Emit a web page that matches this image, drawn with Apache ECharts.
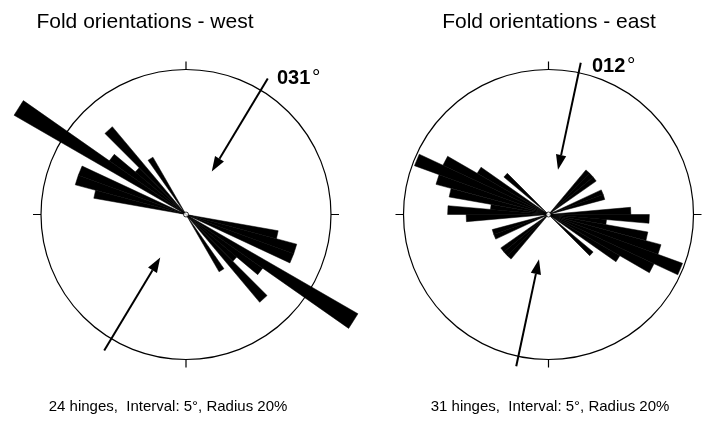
<!DOCTYPE html>
<html>
<head>
<meta charset="utf-8">
<title>Fold orientations</title>
<script src="https://cdn.jsdelivr.net/npm/echarts@6/dist/echarts.min.js"></script>
<style>
  html, body { margin: 0; padding: 0; background: #fff; }
  #chart { width: 705px; height: 443px; }
</style>
</head>
<body>
<div id="chart"></div>
<script>
// Axial fold-hinge trends, 5° bins (bin start bearing, 0–180°); each bin is
// also plotted at bearing + 180°. Counts are numbers of hinges per bin.
const binWidth = 5;
const westBinStart = [100, 105, 110, 120, 125, 130, 135, 145];
const westCounts   = [2, 3, 3, 9, 2, 1, 3, 1];
const eastBinStart = [40, 45, 50, 65, 70, 85, 90, 95, 100, 105, 110, 115, 120, 130];
const eastCounts   = [1, 1, 1, 1, 1, 2, 3, 1, 3, 4, 6, 4, 2, 1];

const hingeTotals   = [24, 31];
const meanTrend     = [31, 12];           // mean fold trend, degrees
const trendLabels   = ['031', '012'];
const circlePercent = 20;                 // outer circle = 20 % of hinges
const titles    = ['Fold orientations - west', 'Fold orientations - east'];
const footnotes = ['24 hinges,  Interval: 5°, Radius 20%', '31 hinges,  Interval: 5°, Radius 20%'];

const FONT = '"Liberation Sans", Arial, Helvetica, sans-serif';
const centers = [[186, 214.5], [548.5, 214.5]];
const R = 145;
const arrowSpan = [[0.345, 1.095], [0.315, 1.07]];   // tip / tail, fraction of R

// equal-area petals: radius ∝ sqrt(percentage); rows = [sqrtPct, binStart]
function petalRows(starts, counts, total) {
  const rows = [];
  starts.forEach((s, i) => {
    const v = Math.sqrt(counts[i] / total * 100);
    rows.push([v, s]);
    rows.push([v, (s + 180) % 360]);
  });
  return rows;
}
const petals = [
  petalRows(westBinStart, westCounts, hingeTotals[0]),
  petalRows(eastBinStart, eastCounts, hingeTotals[1])
];

const polar = [], angleAxis = [], radiusAxis = [], series = [];
centers.forEach((c, k) => {
  polar.push({ center: c, radius: [0, R] });
  angleAxis.push({
    polarIndex: k, type: 'value', min: 0, max: 360, interval: 90,
    startAngle: 90, clockwise: true,
    axisLine: { show: true, lineStyle: { color: '#000', width: 1.2 } },
    axisTick: { show: true, inside: false, length: 8, lineStyle: { color: '#000', width: 1.2 } },
    axisLabel: { show: false }, splitLine: { show: false }, splitArea: { show: false }
  });
  radiusAxis.push({
    polarIndex: k, type: 'value', min: 0, max: Math.sqrt(circlePercent),
    axisLine: { show: false }, axisTick: { show: false },
    axisLabel: { show: false }, splitLine: { show: false }, splitArea: { show: false }
  });

  // rose petals: one wedge per 5° bin, from the centre out to the petal radius
  series.push({
    type: 'custom', coordinateSystem: 'polar', polarIndex: k,
    data: petals[k], silent: true, z: 2,
    renderItem: function (params, api) {
      const r = api.value(0), a = api.value(1);
      const o = api.coord([0, a]);
      const p1 = api.coord([r, a]);
      const p2 = api.coord([r, a + binWidth]);
      return {
        type: 'polygon',
        shape: { points: [o, p1, p2] },
        style: { fill: '#000', stroke: '#000', lineWidth: 0.5, lineJoin: 'miter' }
      };
    }
  });

  // mean trend arrows, pointing in from both ends of the axis
  const span = arrowSpan[k];
  const rMax = Math.sqrt(circlePercent);
  series.push({
    type: 'custom', coordinateSystem: 'polar', polarIndex: k,
    data: [[0, meanTrend[k]], [0, meanTrend[k] + 180]],
    silent: true, z: 4,
    renderItem: function (params, api) {
      const b = api.value(1);
      const tip = api.coord([span[0] * rMax, b]);
      const tail = api.coord([span[1] * rMax, b]);
      const dx = tail[0] - tip[0], dy = tail[1] - tip[1];
      const len = Math.sqrt(dx * dx + dy * dy);
      const ux = dx / len, uy = dy / len;
      const headLen = 15, headHalf = 5.2;
      const bx = tip[0] + ux * headLen, by = tip[1] + uy * headLen;
      return {
        type: 'group',
        children: [
          { type: 'line', shape: { x1: tail[0], y1: tail[1], x2: bx, y2: by },
            style: { stroke: '#000', lineWidth: 2 } },
          { type: 'polygon',
            shape: { points: [tip, [bx - uy * headHalf, by + ux * headHalf], [bx + uy * headHalf, by - ux * headHalf]] },
            style: { fill: '#000' } }
        ]
      };
    }
  });

  // small open circle at the centre
  series.push({
    type: 'scatter', coordinateSystem: 'polar', polarIndex: k,
    data: [[0, 0]], symbol: 'circle', symbolSize: 5, silent: true, z: 6,
    itemStyle: { color: '#fff', borderColor: '#000', borderWidth: 1 }
  });
});

function text(x, y, str, font, align) {
  return { type: 'text', x: x, y: y, silent: true,
    style: { text: str, font: font, fill: '#000', textAlign: align, align: align,
             textVerticalAlign: 'bottom', verticalAlign: 'bottom' } };
}

const graphic = [];
const titleX = [145, 549];
const footX  = [168, 550];
titles.forEach((t, k) => {
  graphic.push(text(titleX[k], 33, t, '21px ' + FONT, 'center'));
  graphic.push(text(footX[k], 414, footnotes[k], '15px ' + FONT, 'center'));
});
const labelPos = [[277, 88], [592, 76]];
trendLabels.forEach((t, k) => {
  graphic.push(text(labelPos[k][0], labelPos[k][1], t, 'bold 20px ' + FONT, 'left'));
  graphic.push(text(labelPos[k][0] + 35, labelPos[k][1] + 0.5, '°', '21px ' + FONT, 'left'));
});

const chart = echarts.init(document.getElementById('chart'), null, { renderer: 'canvas' });
chart.setOption({
  backgroundColor: '#fff',
  animation: false,
  polar: polar,
  angleAxis: angleAxis,
  radiusAxis: radiusAxis,
  series: series,
  graphic: graphic
});
</script>
</body>
</html>
